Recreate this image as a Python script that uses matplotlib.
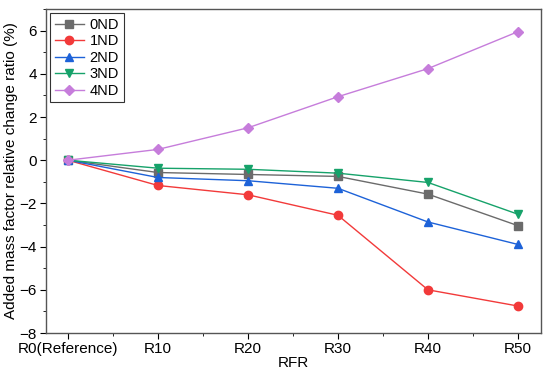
import numpy as np
import matplotlib
matplotlib.use('Agg')
import matplotlib.pyplot as plt
from matplotlib.ticker import MultipleLocator

plt.rcParams['font.family'] = ['Liberation Sans', 'DejaVu Sans']

# 数据
rfr = ['R0(Reference)', 'R10', 'R20', 'R30', 'R40', 'R50']
nd0 = [0, -0.57, -0.66, -0.75, -1.57, -3.03]
nd1 = [0, -1.17, -1.6, -2.55, -6.0, -6.75]
nd2 = [0, -0.8, -0.95, -1.3, -2.86, -3.9]
nd3 = [0, -0.37, -0.42, -0.6, -1.03, -2.5]
nd4 = [0, 0.5, 1.5, 2.94, 4.24, 5.95]

series = [
    ('0ND', nd0, '#6b6b6b', 's'),
    ('1ND', nd1, '#f23a3a', 'o'),
    ('2ND', nd2, '#1d62d8', '^'),
    ('3ND', nd3, '#16a26a', 'v'),
    ('4ND', nd4, '#c67ddb', 'D'),
]

fig = plt.figure(figsize=(5.5, 3.72), dpi=100)
ax = fig.add_axes([0.0836, 0.1048, 0.9, 0.871])

x = np.arange(len(rfr))
for name, vals, c, m in series:
    ms = 6 if m != 'D' else 5.5
    ax.plot(x, vals, color=c, marker=m, markersize=ms, linewidth=1.0, label=name)

ax.set_xlim(-0.244, 5.256)
ax.set_ylim(-8, 7)
ax.set_xticks(x)
ax.set_xticklabels(rfr)
ax.xaxis.set_minor_locator(MultipleLocator(0.5))
ax.yaxis.set_major_locator(MultipleLocator(2))
ax.yaxis.set_minor_locator(MultipleLocator(1))
ax.tick_params(which='both', direction='out', labelsize=11)
ax.tick_params(which='major', length=4, pad=2.5)
ax.tick_params(which='minor', length=2.5)
for s in ax.spines.values():
    s.set_color('#555555')
    s.set_linewidth(1.0)

ax.set_xlabel('RFR', fontsize=11, labelpad=0)
ax.set_ylabel('Added mass factor relative change ratio (%)', fontsize=11, labelpad=1)

leg = ax.legend(loc='upper left', fontsize=10.5, frameon=True, fancybox=False,
                edgecolor='black', handlelength=2.0, labelspacing=0.17,
                borderpad=0.3, handletextpad=0.4, borderaxespad=0.3)
leg.get_frame().set_linewidth(0.8)

fig.savefig('out.png', dpi=100)
